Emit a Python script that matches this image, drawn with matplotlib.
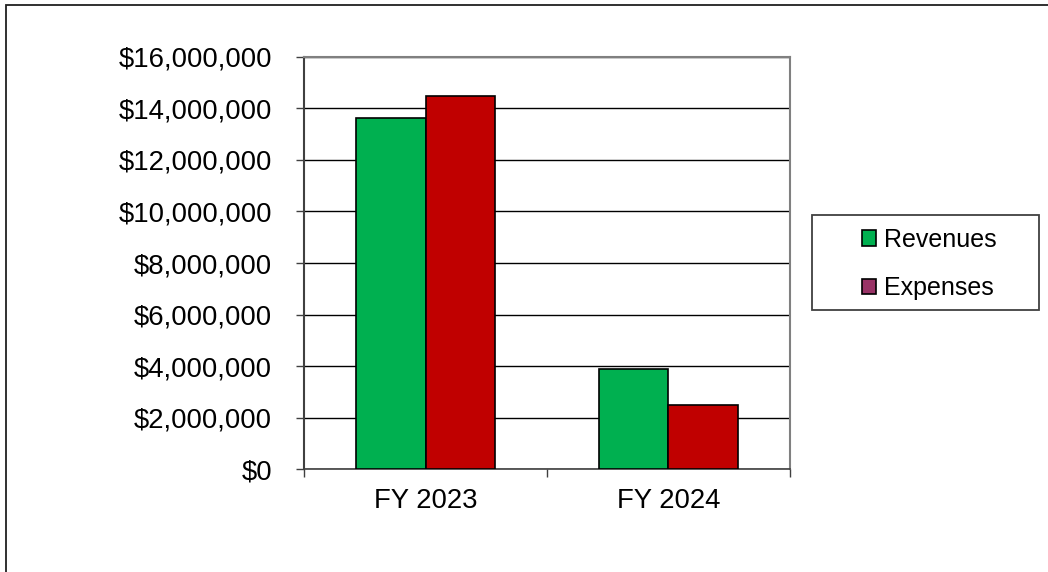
import numpy as np
import matplotlib.pyplot as plt
from matplotlib.patches import Patch, Rectangle
from matplotlib.ticker import FuncFormatter

plt.rcParams['font.family'] = ['Liberation Sans', 'DejaVu Sans']

categories = ["FY 2023", "FY 2024"]
revenues = [13640000, 3900000]
expenses = [14480000, 2510000]
series_names = ["Revenues", "Expenses"]

green = "#00B050"
red = "#C00000"
purple = "#993366"

fig = plt.figure(figsize=(10.48, 5.72), dpi=100)
ax = fig.add_axes([0.2901, 0.1792, 0.4637, 0.7217])

x = np.arange(len(categories))
w = 0.286
ax.bar(x - w / 2, revenues, w, color=green, edgecolor="black", linewidth=1.2, zorder=3)
ax.bar(x + w / 2, expenses, w, color=red, edgecolor="black", linewidth=1.2, zorder=3)

ax.set_xlim(-0.5, len(categories) - 0.5)
ax.set_ylim(0, 16000000)
ax.set_yticks(np.arange(0, 16000001, 2000000))
ax.yaxis.set_major_formatter(FuncFormatter(lambda v, p: "${:,.0f}".format(v)))
ax.grid(axis="y", color="black", linewidth=1.0, zorder=0)

ax.set_xticks(x)
ax.set_xticklabels(categories)
ax.set_xticks(np.arange(-0.5, len(categories)), minor=True)
ax.tick_params(axis="x", which="major", length=0, pad=13, labelsize=19.8)
ax.tick_params(axis="x", which="minor", length=6, width=1, direction="out", color="#404040")
ax.tick_params(axis="y", length=6, width=1, direction="out", pad=17, labelsize=19.8, color="#404040")

for s in ["top", "right"]:
    ax.spines[s].set_color("#808080")
    ax.spines[s].set_linewidth(1.5)
ax.spines["left"].set_color("#404040")
ax.spines["left"].set_linewidth(1.5)
ax.spines["bottom"].set_color("#404040")
ax.spines["bottom"].set_linewidth(1.2)

# legend box drawn separately so its size matches
fig.patches.append(Rectangle((811.5 / 1048, 1 - 310 / 572), 227 / 1048, 95.5 / 572,
                             transform=fig.transFigure, facecolor="white",
                             edgecolor="#404040", linewidth=1.3, zorder=1))
handles = [Patch(facecolor=green, edgecolor="black", linewidth=1.2),
           Patch(facecolor=purple, edgecolor="black", linewidth=1.2)]
leg = fig.legend(handles, series_names, loc="center left",
                 bbox_to_anchor=(862 / 1048, 1 - 264 / 572),
                 fontsize=18, frameon=False, handlelength=0.56, handleheight=0.56,
                 handletextpad=0.3, labelspacing=0.97, borderpad=0,
                 borderaxespad=0)
leg.set_zorder(5)

# outer chart border (runs off the bottom/right edge)
fig.patches.append(Rectangle((5.5 / 1048, -0.1), 1.2, 1.1 - 4.5 / 572,
                             transform=fig.transFigure, fill=False,
                             edgecolor="#202020", linewidth=1.3))

fig.savefig("out.png", dpi=100)
